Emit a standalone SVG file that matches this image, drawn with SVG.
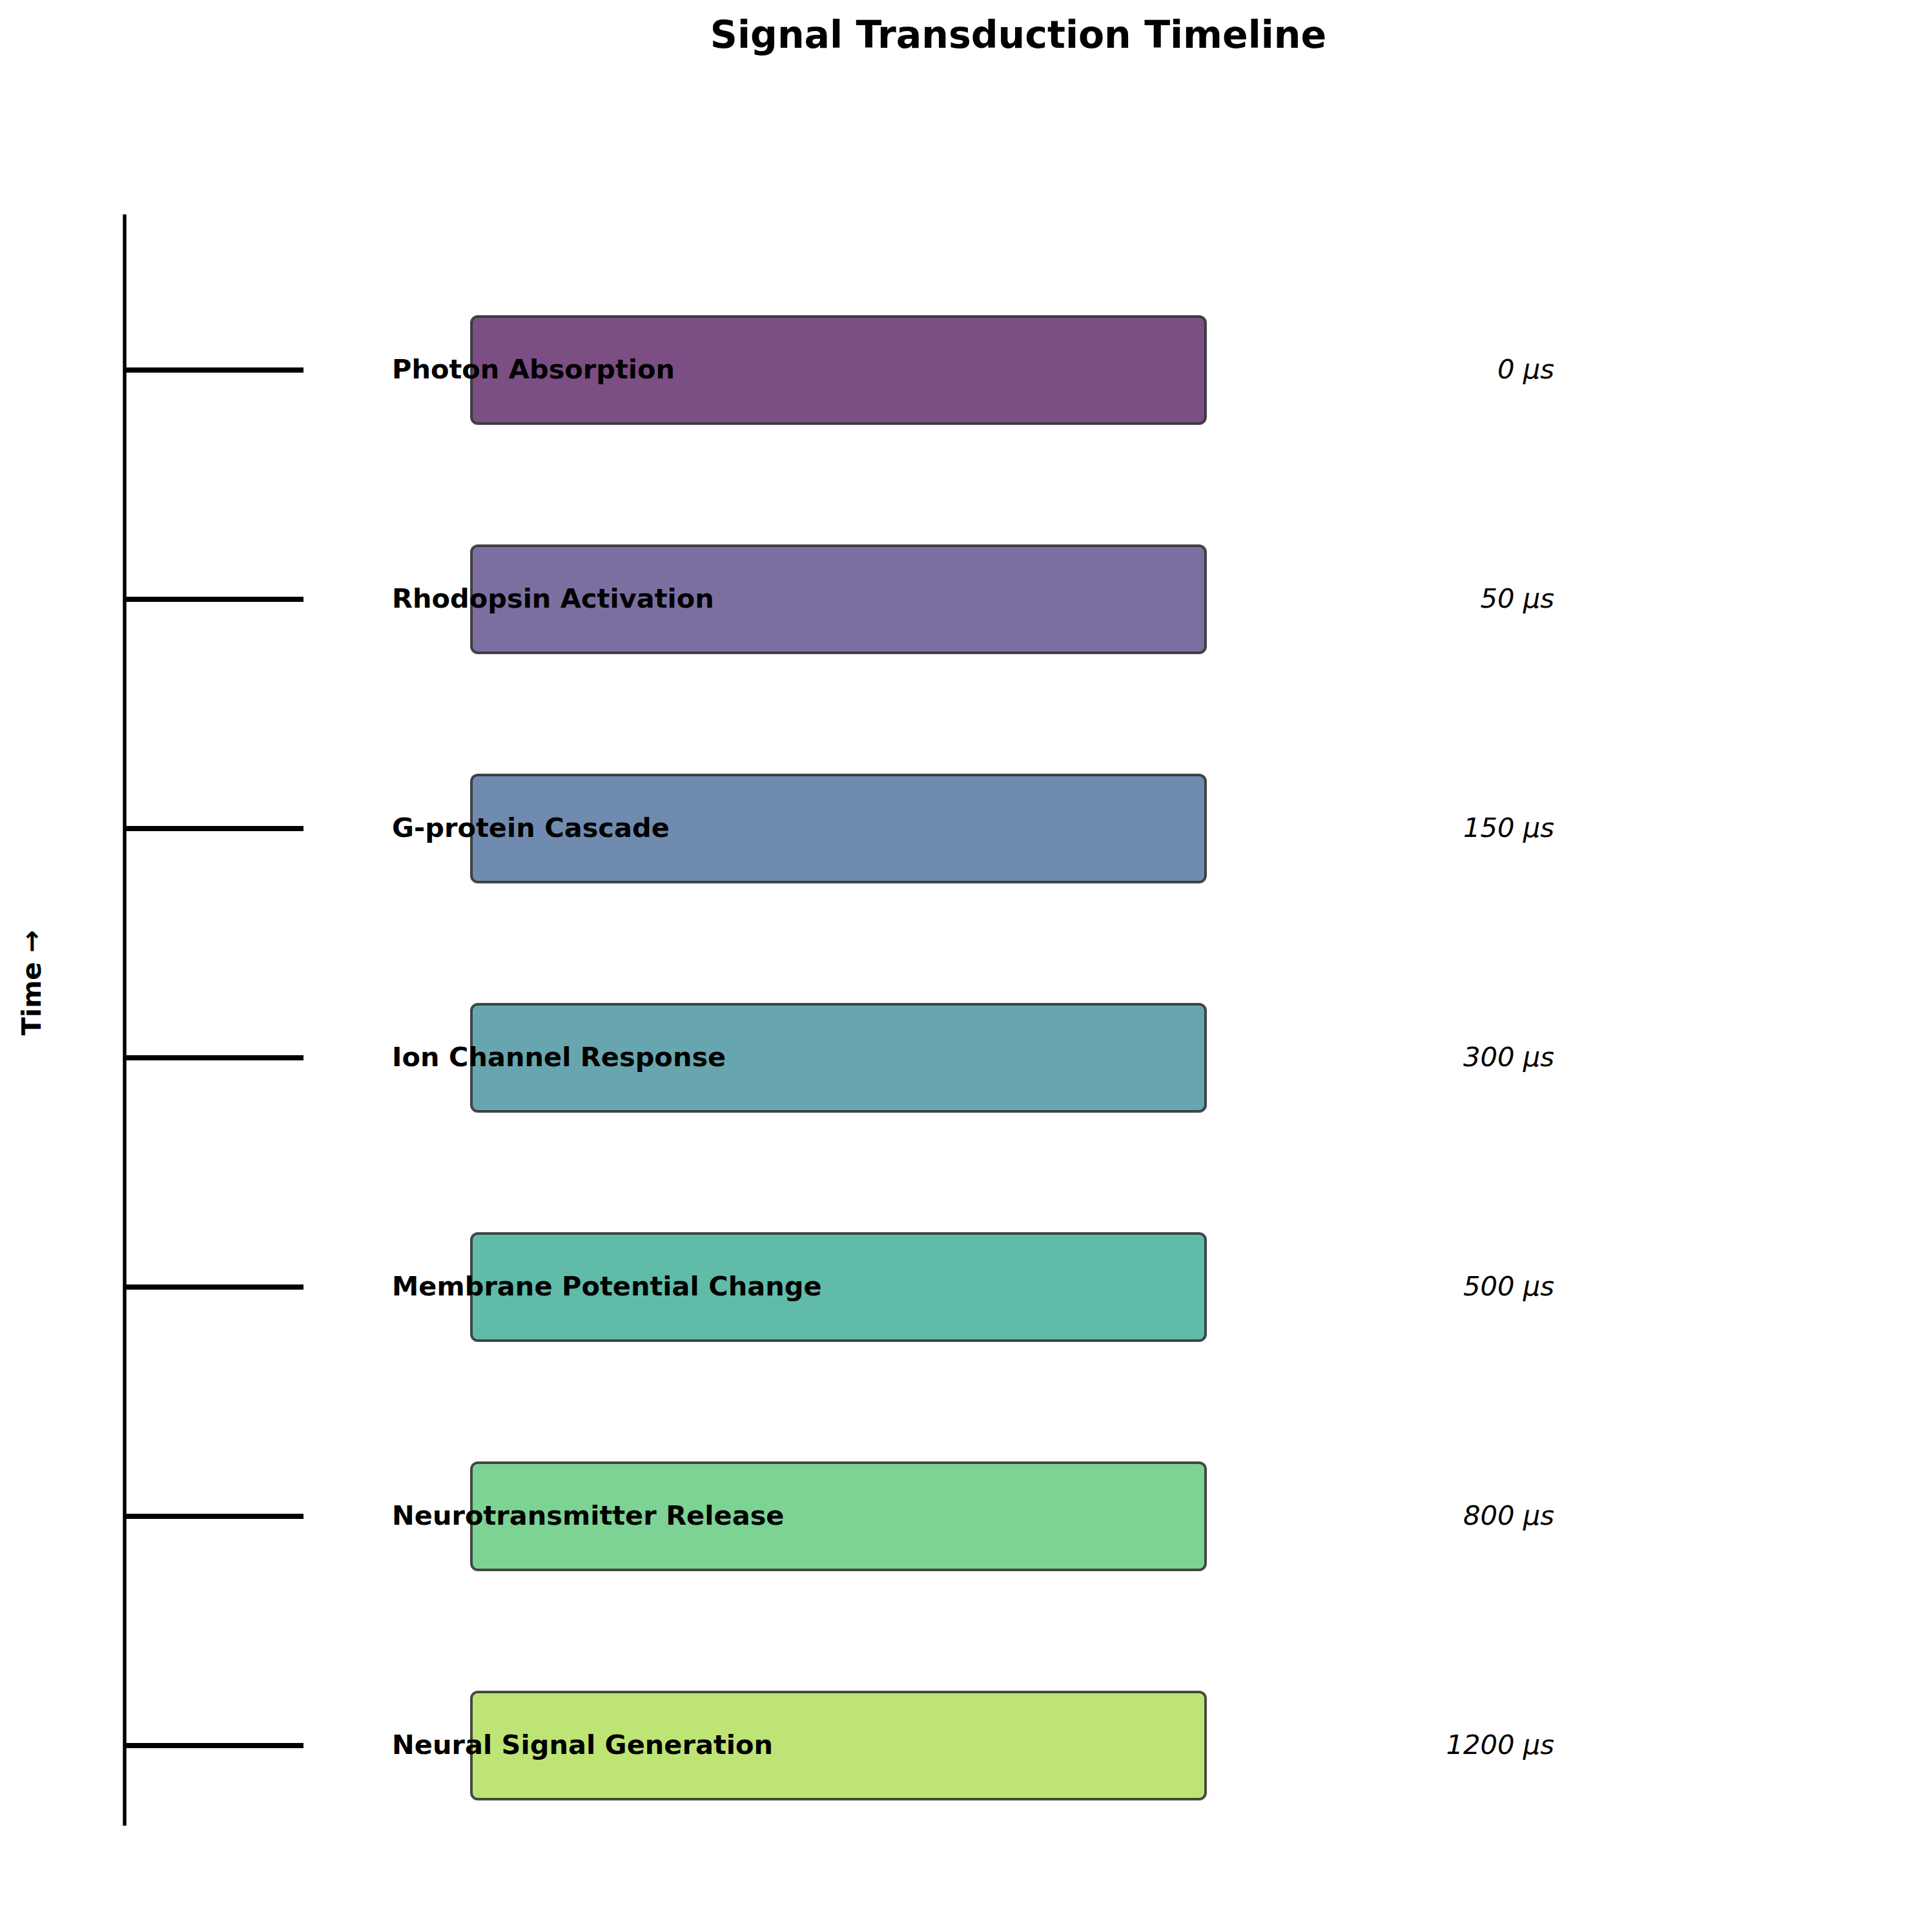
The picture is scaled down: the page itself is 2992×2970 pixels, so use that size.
<svg xmlns="http://www.w3.org/2000/svg" width="2992" height="2970" viewBox="0 0 2992 2970">
  <style>
    .title { font-family: "DejaVu Sans", sans-serif; font-weight: bold; font-size: 58.5px; fill: #000; }
    .axis-label { font-family: "DejaVu Sans", sans-serif; font-weight: bold; font-size: 41.5px; fill: #000; }
    .stage-label { font-family: "DejaVu Sans", sans-serif; font-weight: bold; font-size: 41.5px; fill: #000; }
    .time-label { font-family: "DejaVu Sans", sans-serif; font-style: italic; font-size: 41.7px; fill: #000; text-anchor: end; }
    .box { stroke: #2b2b2b; stroke-opacity: 0.85; stroke-width: 4; }
    .tick { stroke: #000; stroke-width: 8; fill: none; }
    .axis { stroke: #000; stroke-width: 5.5; fill: none; }
  </style>
  <rect x="0" y="0" width="2992" height="2970" fill="#ffffff"/>

  <text class="title" x="1577" y="74" text-anchor="middle">Signal Transduction Timeline</text>
  <text class="axis-label" transform="translate(63,1522) rotate(-90)" text-anchor="middle">Time →</text>

  <!-- timeline axis and ticks -->
  <g id="connectors">
    <line class="axis" x1="193" y1="332" x2="193" y2="2827"/>
    <line class="tick" x1="193" y1="573" x2="470" y2="573"/>
    <line class="tick" x1="193" y1="928" x2="470" y2="928"/>
    <line class="tick" x1="193" y1="1283" x2="470" y2="1283"/>
    <line class="tick" x1="193" y1="1638" x2="470" y2="1638"/>
    <line class="tick" x1="193" y1="1993" x2="470" y2="1993"/>
    <line class="tick" x1="193" y1="2348" x2="470" y2="2348"/>
    <line class="tick" x1="193" y1="2703" x2="470" y2="2703"/>
  </g>

  <g id="stage-photon">
    <rect class="box" x="730" y="490" width="1137" height="166" rx="10" fill="#7B4F84"/>
    <text class="stage-label" x="607" y="586">Photon Absorption</text>
    <text class="time-label" x="2407" y="586">0 μs</text>
  </g>
  <g id="stage-rhodopsin">
    <rect class="box" x="730" y="845" width="1137" height="166" rx="10" fill="#7C6FA0"/>
    <text class="stage-label" x="607" y="941">Rhodopsin Activation</text>
    <text class="time-label" x="2407" y="941">50 μs</text>
  </g>
  <g id="stage-gprotein">
    <rect class="box" x="730" y="1200" width="1137" height="166" rx="10" fill="#6F8BAF"/>
    <text class="stage-label" x="607" y="1296">G-protein Cascade</text>
    <text class="time-label" x="2407" y="1296">150 μs</text>
  </g>
  <g id="stage-ion">
    <rect class="box" x="730" y="1555" width="1137" height="166" rx="10" fill="#68A6AF"/>
    <text class="stage-label" x="607" y="1651">Ion Channel Response</text>
    <text class="time-label" x="2407" y="1651">300 μs</text>
  </g>
  <g id="stage-membrane">
    <rect class="box" x="730" y="1910" width="1137" height="166" rx="10" fill="#60BCA9"/>
    <text class="stage-label" x="607" y="2006">Membrane Potential Change</text>
    <text class="time-label" x="2407" y="2006">500 μs</text>
  </g>
  <g id="stage-neurotransmitter">
    <rect class="box" x="730" y="2265" width="1137" height="166" rx="10" fill="#7DD394"/>
    <text class="stage-label" x="607" y="2361">Neurotransmitter Release</text>
    <text class="time-label" x="2407" y="2361">800 μs</text>
  </g>
  <g id="stage-neural">
    <rect class="box" x="730" y="2620" width="1137" height="166" rx="10" fill="#BEE475"/>
    <text class="stage-label" x="607" y="2716">Neural Signal Generation</text>
    <text class="time-label" x="2407" y="2716">1200 μs</text>
  </g>
</svg>
